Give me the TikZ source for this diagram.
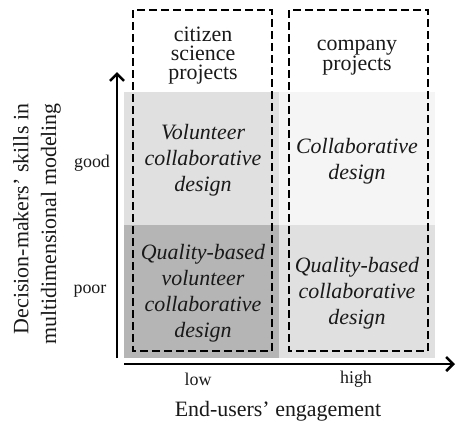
\documentclass[tikz,border=0pt]{standalone}
\usepackage{fontspec}
\setmainfont{Liberation Serif}
\usetikzlibrary{arrows.meta}
\begin{document}
\begin{tikzpicture}[x=1bp,y=-1bp,
  cellfill/.style={draw=none},
  grpbox/.style={draw=black, dash pattern=on 8bp off 4bp, line width=1.2bp},
  celltext/.style={align=center, font=\fontsize{22}{26}\selectfont\itshape, text=black!90},
  grptext/.style={align=center, font=\fontsize{22}{19}\selectfont, text=black!90},
  ticktext/.style={font=\fontsize{18}{20}\selectfont, text=black!90},
  axistext/.style={font=\fontsize{22}{26}\selectfont, text=black!90},
  axisline/.style={line width=2bp, -{Straight Barb[length=7bp,width=14bp,line width=2.6bp]}}]
\useasboundingbox (0,0) rectangle (457,422);
% shaded cells
\fill[cellfill, fill=black!12] (124,92) rectangle (279,225);
\fill[cellfill, fill=black!4] (279,92) rectangle (435,225);
\fill[cellfill, fill=black!29] (124,225) rectangle (279,358);
\fill[cellfill, fill=black!12] (279,225) rectangle (435,358);
% dashed group boxes
\draw[grpbox] (133,10) rectangle (272,351);
\draw[grpbox] (289,10) rectangle (428,351);
% group titles
\node[grptext] (cit) at (203,56) {citizen\\science\\projects};
\node[grptext] (com) at (357,58) {company\\projects};
% cell texts
\node[celltext] (vcd) at (203,160) {Volunteer\\collaborative\\design};
\node[celltext] (cd) at (357,161) {Collaborative\\design};
\node[celltext] (qvcd) at (203,293) {Quality-based\\volunteer\\collaborative\\design};
\node[celltext] (qcd) at (357,293) {Quality-based\\collaborative\\design};
% axes
\coordinate (o) at (117,358);
\coordinate (ytip) at (117,72);
\coordinate (xs) at (124,364);
\coordinate (xtip) at (455,364);
\draw[axisline] (o) -- (ytip);
\draw[axisline] (xs) -- (xtip);
% tick labels
\node[ticktext] (good) at (92,163) {good};
\node[ticktext] (poor) at (90,291) {poor};
\node[ticktext] (low) at (198,379) {low};
\node[ticktext] (high) at (356,379) {high};
% axis titles
\node[axistext] (xl) at (278,411) {End-users' engagement};
\node[axistext, rotate=90] (yl1) at (21,219) {Decision-makers' skills in};
\node[axistext, rotate=90] (yl2) at (51,224) {multidimensional modeling};
\end{tikzpicture}
\end{document}
